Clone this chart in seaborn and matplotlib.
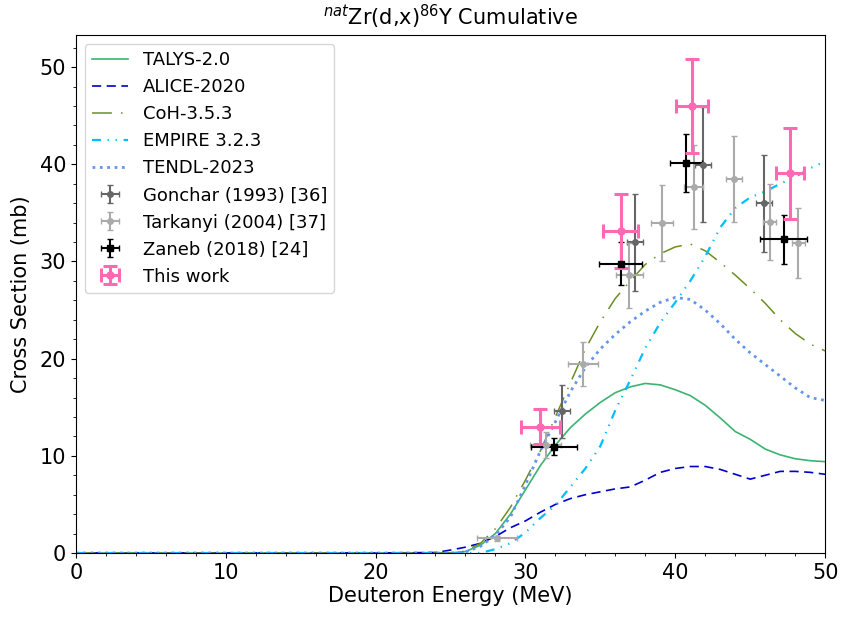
import matplotlib
matplotlib.use("Agg")
import matplotlib.pyplot as plt
import seaborn as sns
import numpy as np

# ---- data ----
energy = [0, 20, 24, 25, 26, 27, 28, 29, 30, 31, 32, 33, 34, 35, 36, 37, 38, 39,
          40, 41, 42, 43, 44, 45, 46, 47, 48, 49, 50]
talys = [0, 0, 0, 0, 0.15, 0.8, 2.0, 4.0, 6.5, 9.0, 11.1, 12.9, 14.3, 15.5, 16.5,
         17.1, 17.45, 17.3, 16.8, 16.2, 15.2, 13.9, 12.5, 11.7, 10.7, 10.1, 9.7, 9.5, 9.4]
alice = [0, 0, 0.05, 0.3, 0.6, 1.0, 1.7, 2.6, 3.3, 4.2, 5.0, 5.6, 6.0, 6.3, 6.6,
         6.8, 7.5, 8.3, 8.7, 8.9, 8.9, 8.6, 8.1, 7.6, 8.0, 8.4, 8.4, 8.3, 8.1]
coh = [0, 0, 0, 0, 0.2, 1.0, 2.5, 4.7, 7.5, 10.5, 14.0, 17.5, 21.0, 23.8, 26.2,
       28.0, 29.7, 30.8, 31.5, 31.8, 31.1, 29.9, 28.6, 27.2, 25.7, 24.0, 22.6, 21.5, 20.8]
empire = [0, 0, 0, 0, 0, 0, 0.4, 1.0, 2.1, 3.6, 4.9, 6.8, 8.7, 11.0, 14.7,
          17.8, 21.1, 23.7, 25.8, 28.0, 30.5, 33.5, 35.5, 36.6, 37.2, 38.0, 38.7, 39.6, 40.3]
tendl = [0, 0, 0, 0, 0.1, 0.7, 1.8, 3.7, 7.0, 10.5, 13.5, 16.6, 19.1, 21.0, 22.5,
         23.8, 24.9, 25.8, 26.3, 26.1, 25.0, 23.6, 22.0, 20.6, 19.4, 18.2, 17.0, 16.0, 15.7]

gonchar_e = [32.44, 37.32, 41.83, 45.9]
gonchar_xs = [14.57, 31.96, 39.97, 35.98]
gonchar_de = [0.53, 0.53, 0.53, 0.53]
gonchar_dxs = [2.7, 5.0, 5.95, 5.0]

tark_e = [28.12, 31.35, 33.82, 36.94, 39.12, 41.23, 43.9, 46.3, 48.22]
tark_xs = [1.5, 11.13, 19.45, 28.56, 33.95, 37.66, 38.45, 34.1, 31.86]
tark_de = [1.35, 1.05, 1.0, 0.91, 0.73, 0.62, 0.53, 0.42, 0.42]
tark_dxs = [0.3, 1.37, 2.3, 3.3, 3.9, 4.33, 4.43, 3.9, 3.6]

zaneb_e = [31.89, 36.36, 40.7, 47.24]
zaneb_xs = [10.96, 29.76, 40.13, 32.27]
zaneb_de = [1.53, 1.45, 1.08, 1.56]
zaneb_dxs = [0.85, 2.2, 2.97, 2.5]

work_e = [31.0, 36.36, 41.14, 47.64]
work_xs = [13.0, 33.1, 46.0, 39.07]
work_de = [1.3, 1.17, 1.07, 0.93]
work_dxs = [1.8, 3.8, 4.85, 4.65]

fig = plt.figure(figsize=(8.42, 6.21), dpi=100)
ax = fig.add_axes([0.090, 0.1095, 0.890, 0.834])

sns.lineplot(x=energy, y=talys, ax=ax, color="#3cb371", lw=1.2, label="TALYS-2.0")
sns.lineplot(x=energy, y=alice, ax=ax, color="#0000cd", lw=1.2,
             linestyle=(0, (5.5, 3.3)), label="ALICE-2020")
sns.lineplot(x=energy, y=coh, ax=ax, color="#6b8e23", lw=1.1,
             linestyle=(0, (13, 6, 1, 6)), label="CoH-3.5.3")
sns.lineplot(x=energy, y=empire, ax=ax, color="#00bfff", lw=1.6,
             linestyle=(0, (4, 3, 0.6, 3, 0.6, 3)), label="EMPIRE 3.2.3")
sns.lineplot(x=energy, y=tendl, ax=ax, color="#6495ed", lw=2.0,
             linestyle=(0, (1, 1.65)), label="TENDL-2023")

ax.errorbar(gonchar_e, gonchar_xs, xerr=gonchar_de, yerr=gonchar_dxs, fmt="o",
            color="#666666", ms=4, capsize=2, elinewidth=1.5, label="Gonchar (1993) [36]")
ax.errorbar(tark_e, tark_xs, xerr=tark_de, yerr=tark_dxs, fmt="o",
            color="#aaaaaa", ms=4, capsize=2, elinewidth=1.5, label="Tarkanyi (2004) [37]")
ax.errorbar(zaneb_e, zaneb_xs, xerr=zaneb_de, yerr=zaneb_dxs, fmt="s",
            color="black", ms=5, capsize=2, elinewidth=1.5, label="Zaneb (2018) [24]")
ax.errorbar(work_e, work_xs, xerr=work_de, yerr=work_dxs, fmt="o",
            color="#ff69b4", ms=5, capsize=5, elinewidth=2.2, capthick=2.2,
            label="This work")

ax.set_xlim(0, 50)
ax.set_ylim(0, 53.3)
ax.minorticks_on()
ax.tick_params(labelsize=15)
ax.set_xlabel("Deuteron Energy (MeV)", fontsize=15, labelpad=2)
ax.set_ylabel("Cross Section (mb)", fontsize=15, labelpad=6)
ax.set_title(r"$^{nat}$Zr(d,x)$^{86}$Y Cumulative", fontsize=15, pad=7)
ax.legend(loc="upper left", fontsize=13, labelspacing=0.5)

fig.savefig("out.png", dpi=100)
